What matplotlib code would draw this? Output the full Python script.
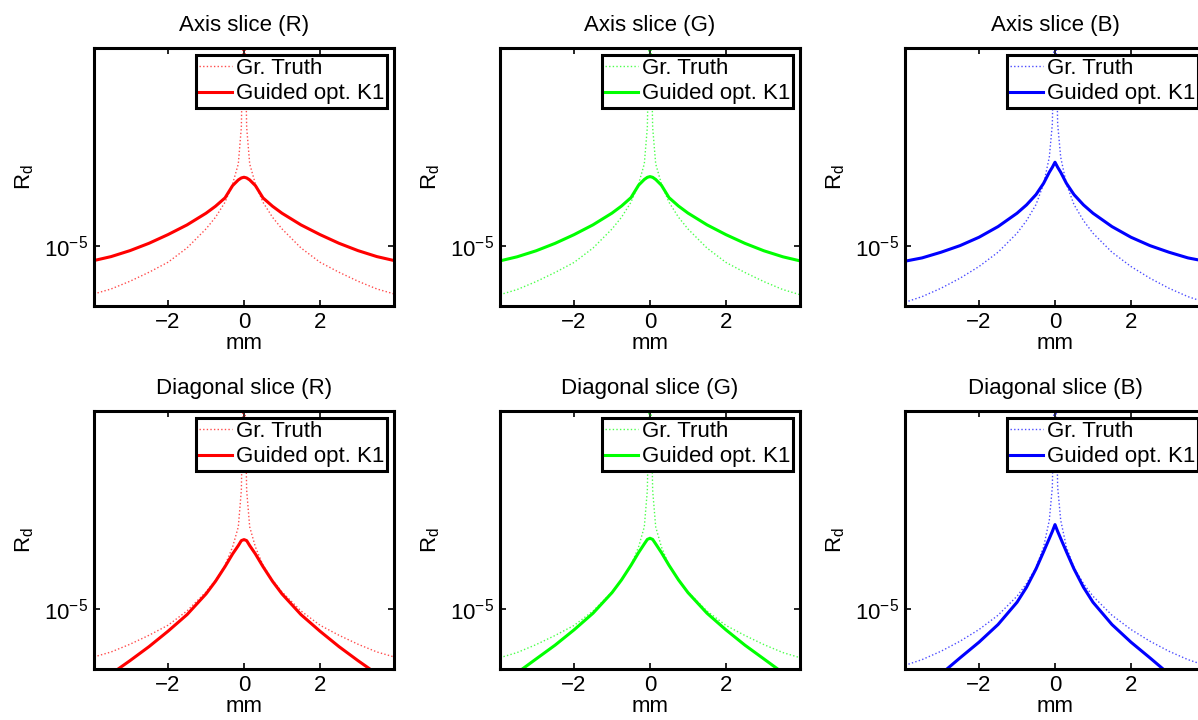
import numpy as np
import matplotlib
matplotlib.use('Agg')
import matplotlib.pyplot as plt
from matplotlib.ticker import FixedLocator, NullLocator, LogFormatterSciNotation

plt.rcParams['font.family'] = ['Liberation Sans', 'DejaVu Sans']
plt.rcParams['mathtext.fontset'] = 'custom'
plt.rcParams['mathtext.rm'] = 'Liberation Sans'
plt.rcParams['mathtext.it'] = 'Liberation Sans:italic'
plt.rcParams['mathtext.bf'] = 'Liberation Sans:bold'
plt.rcParams['axes.unicode_minus'] = True

# ---------------- data ----------------
x_mm = [-3.95, -3.5, -3.0, -2.5, -2.0, -1.5, -1.0, -0.75, -0.5, -0.3, -0.15, -0.07, 0.0,
        0.07, 0.15, 0.3, 0.5, 0.75, 1.0, 1.5, 2.0, 2.5, 3.0, 3.5, 3.95]

# Ground truth (dotted)
gt_R = [6.05e-6, 6.37e-6, 6.91e-6, 7.59e-6, 8.43e-6, 9.79e-6, 1.195e-5, 1.350e-5, 1.579e-5,
        1.913e-5, 2.359e-5, 3.462e-5, 1.6e-4,
        3.462e-5, 2.359e-5, 1.913e-5, 1.579e-5, 1.350e-5, 1.195e-5, 9.79e-6, 8.43e-6,
        7.59e-6, 6.91e-6, 6.37e-6, 6.05e-6]
gt_G = [6.00e-6, 6.33e-6, 6.88e-6, 7.57e-6, 8.41e-6, 9.78e-6, 1.194e-5, 1.350e-5, 1.580e-5,
        1.915e-5, 2.360e-5, 3.460e-5, 1.6e-4,
        3.460e-5, 2.360e-5, 1.915e-5, 1.580e-5, 1.350e-5, 1.194e-5, 9.78e-6, 8.41e-6,
        7.57e-6, 6.88e-6, 6.33e-6, 6.00e-6]
gt_B = [5.54e-6, 5.88e-6, 6.42e-6, 7.13e-6, 8.06e-6, 9.36e-6, 1.142e-5, 1.303e-5, 1.541e-5,
        1.913e-5, 2.529e-5, 3.585e-5, 1.6e-4,
        3.585e-5, 2.529e-5, 1.913e-5, 1.541e-5, 1.303e-5, 1.142e-5, 9.36e-6, 8.06e-6,
        7.13e-6, 6.42e-6, 5.88e-6, 5.54e-6]

# Guided optimisation K1, axis slice (solid)
axis_R = [8.58e-6, 8.94e-6, 9.52e-6, 1.028e-5, 1.126e-5, 1.246e-5, 1.408e-5, 1.515e-5, 1.653e-5,
          1.880e-5, 1.995e-5, 2.037e-5, 2.052e-5,
          2.037e-5, 1.995e-5, 1.880e-5, 1.653e-5, 1.515e-5, 1.408e-5, 1.246e-5, 1.126e-5,
          1.028e-5, 9.52e-6, 8.94e-6, 8.58e-6]
axis_G = [8.55e-6, 8.92e-6, 9.50e-6, 1.027e-5, 1.125e-5, 1.247e-5, 1.410e-5, 1.518e-5, 1.658e-5,
          1.888e-5, 2.005e-5, 2.050e-5, 2.066e-5,
          2.050e-5, 2.005e-5, 1.888e-5, 1.658e-5, 1.518e-5, 1.410e-5, 1.247e-5, 1.125e-5,
          1.027e-5, 9.50e-6, 8.92e-6, 8.55e-6]
axis_B = [8.52e-6, 8.82e-6, 9.36e-6, 1.003e-5, 1.095e-5, 1.224e-5, 1.408e-5, 1.536e-5, 1.711e-5,
          1.926e-5, 2.162e-5, 2.278e-5, 2.401e-5,
          2.278e-5, 2.162e-5, 1.926e-5, 1.711e-5, 1.536e-5, 1.408e-5, 1.224e-5, 1.095e-5,
          1.003e-5, 9.36e-6, 8.82e-6, 8.52e-6]

# Guided optimisation K1, diagonal slice (solid)
diag_R = [4.48e-6, 5.06e-6, 5.82e-6, 6.74e-6, 7.92e-6, 9.42e-6, 1.170e-5, 1.336e-5, 1.557e-5,
          1.778e-5, 1.940e-5, 2.044e-5, 2.066e-5,
          2.044e-5, 1.940e-5, 1.778e-5, 1.557e-5, 1.336e-5, 1.170e-5, 9.42e-6, 7.92e-6,
          6.74e-6, 5.82e-6, 5.06e-6, 4.48e-6]
diag_G = [4.56e-6, 5.12e-6, 5.92e-6, 6.84e-6, 8.03e-6, 9.56e-6, 1.186e-5, 1.355e-5, 1.579e-5,
          1.804e-5, 1.975e-5, 2.070e-5, 2.095e-5,
          2.070e-5, 1.975e-5, 1.804e-5, 1.579e-5, 1.355e-5, 1.186e-5, 9.56e-6, 8.03e-6,
          6.84e-6, 5.92e-6, 5.12e-6, 4.56e-6]
diag_B = [3.70e-6, 4.25e-6, 5.06e-6, 5.99e-6, 7.06e-6, 8.49e-6, 1.072e-5, 1.254e-5, 1.520e-5,
          1.820e-5, 2.090e-5, 2.250e-5, 2.417e-5,
          2.250e-5, 2.090e-5, 1.820e-5, 1.520e-5, 1.254e-5, 1.072e-5, 8.49e-6, 7.06e-6,
          5.99e-6, 5.06e-6, 4.25e-6, 3.70e-6]

titles = ['Axis slice (R)', 'Axis slice (G)', 'Axis slice (B)',
          'Diagonal slice (R)', 'Diagonal slice (G)', 'Diagonal slice (B)']
colors = ['#ff0000', '#00ff00', '#0000ff']
legend_labels = ['Gr. Truth', 'Guided opt. K1']
x_ticks = [-2, 0, 2]
y_ticks = [1e-5]
x_lim = (-3.95, 3.95)
y_lim = (5.33e-6, 7.94e-5)

gt_series = [gt_R, gt_G, gt_B, gt_R, gt_G, gt_B]
fit_series = [axis_R, axis_G, axis_B, diag_R, diag_G, diag_B]

# ---------------- figure ----------------
fig = plt.figure(figsize=(11.98, 7.2), dpi=100)
W, H = 1198.0, 720.0
col_left = [94, 500, 905]
row_top = [48, 411]
aw, ah = 300, 258
FS = 16

for i in range(6):
    r, c = divmod(i, 3)
    ax = fig.add_axes([col_left[c] / W, 1 - (row_top[r] + ah) / H, aw / W, ah / H])
    col = colors[c]
    ax.plot(x_mm, gt_series[i], linestyle=(0, (1, 1.6)), color=col, lw=1.0, alpha=0.7,
            label=legend_labels[0])
    ax.plot(x_mm, fit_series[i], linestyle='-', color=col, lw=2.2,
            label=legend_labels[1])
    ax.set_yscale('log')
    ax.set_xlim(*x_lim)
    ax.set_ylim(*y_lim)
    ax.xaxis.set_major_locator(FixedLocator(x_ticks))
    ax.yaxis.set_major_locator(FixedLocator(y_ticks))
    ax.yaxis.set_major_formatter(LogFormatterSciNotation())
    ax.yaxis.set_minor_locator(NullLocator())
    ax.xaxis.set_minor_locator(NullLocator())
    ax.tick_params(direction='in', top=True, right=True, length=4, width=1.2,
                   labelsize=FS, pad=4)
    for s in ax.spines.values():
        s.set_linewidth(2.2)
    ax.set_title(titles[i], fontsize=FS, pad=12)
    ax.set_xlabel('mm', fontsize=FS, labelpad=0)
    ax.set_ylabel(r'R$_{\mathregular{d}}$', fontsize=FS, labelpad=6)
    leg = ax.legend(loc='upper right', fontsize=FS, fancybox=False, framealpha=1,
                    edgecolor='black', borderpad=0.15, labelspacing=0.2,
                    handlelength=1.5, handletextpad=0.15, borderaxespad=0.3)
    leg.get_frame().set_linewidth(2.2)

fig.savefig('out.png', dpi=100)
